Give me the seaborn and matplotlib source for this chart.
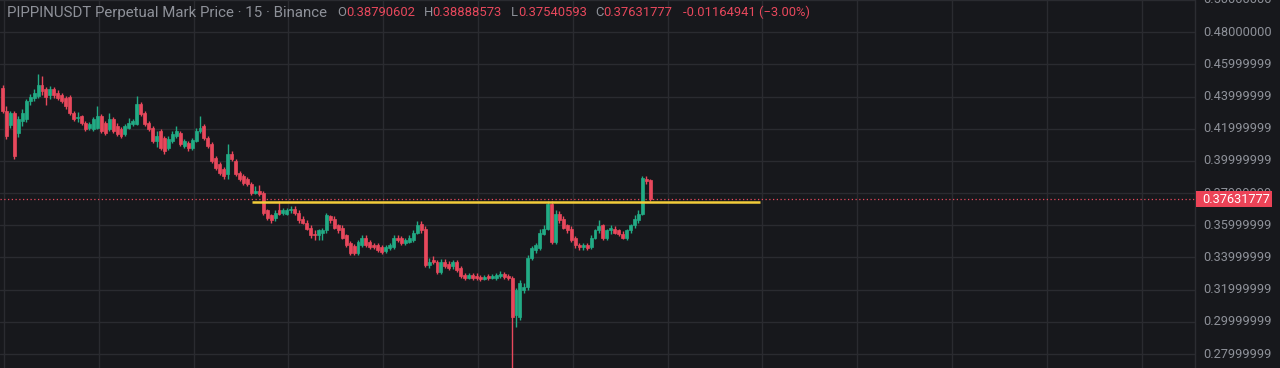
import numpy as np
import pandas as pd
import matplotlib
matplotlib.use("Agg")
import matplotlib.pyplot as plt
import seaborn as sns
from matplotlib.patches import Rectangle
from matplotlib.transforms import blended_transform_factory

# ---------------- data (15-minute candles) ----------------
opens = [
    .4453, .4311, .4224, .4299, .4175, .4249, .4261, .4373, .4391, .4404,
    .4472, .4447, .4410, .4447, .4422, .4410, .4391, .4398, .4299, .4268,
    .4280, .4237, .4206, .4199, .4206, .4280, .4237, .4199, .4261, .4218,
    .4199, .4168, .4206, .4230, .4230, .4354, .4299, .4237, .4206, .4125,
    .4187, .4144, .4082, .4125, .4156, .4175, .4094, .4113, .4082, .4125,
    .4187, .4218, .4144, .4106, .4020, .3983, .3952, .3921, .4045, .4001,
    .3927, .3908, .3890, .3859, .3803, .3816, .3803, .3692, .3661, .3648,
    .3692, .3679, .3673, .3692, .3704, .3679, .3642, .3617, .3586, .3549,
    .3537, .3555, .3568, .3655, .3642, .3599, .3586, .3537, .3487, .3469,
    .3426, .3475, .3524, .3494, .3475, .3475, .3463, .3438, .3456, .3463,
    .3524, .3518, .3487, .3494, .3506, .3555, .3611, .3580, .3351, .3382,
    .3370, .3308, .3370, .3357, .3345, .3370, .3333, .3289, .3271, .3289,
    .3283, .3277, .3264, .3283, .3271, .3271, .3283, .3295, .3283, .3271,
    .3042, .3029, .3196, .3215, .3395, .3444, .3456, .3549, .3580, .3735,
    .3494, .3673, .3642, .3599, .3580, .3518, .3475, .3463, .3475, .3463,
    .3524, .3568, .3599, .3524, .3568, .3580, .3568, .3549, .3524, .3568,
    .3599, .3630, .3673, .3890, .38790602,
]
highs = [
    .4472, .4342, .4311, .4311, .4280, .4323, .4385, .4416, .4447, .4540,
    .4528, .4460, .4466, .4460, .4441, .4422, .4404, .4410, .4311, .4305,
    .4286, .4249, .4243, .4274, .4342, .4292, .4249, .4299, .4274, .4237,
    .4212, .4230, .4268, .4261, .4404, .4367, .4311, .4249, .4218, .4187,
    .4199, .4156, .4156, .4187, .4218, .4187, .4137, .4125, .4144, .4206,
    .4280, .4230, .4156, .4119, .4032, .3995, .3964, .4106, .4063, .4014,
    .3939, .3921, .3902, .3871, .3846, .3853, .3816, .3704, .3673, .3692,
    .3754, .3710, .3710, .3723, .3717, .3692, .3655, .3630, .3599, .3568,
    .3580, .3586, .3679, .3667, .3655, .3611, .3599, .3549, .3500, .3481,
    .3506, .3537, .3537, .3506, .3487, .3487, .3475, .3475, .3487, .3537,
    .3537, .3531, .3518, .3537, .3568, .3624, .3624, .3593, .3395, .3407,
    .3382, .3388, .3388, .3376, .3382, .3382, .3345, .3302, .3302, .3302,
    .3302, .3289, .3289, .3295, .3295, .3302, .3314, .3308, .3295, .3283,
    .3209, .3258, .3240, .3413, .3469, .3487, .3580, .3599, .3754, .3748,
    .3692, .3686, .3655, .3611, .3593, .3531, .3487, .3487, .3487, .3537,
    .3580, .3630, .3611, .3580, .3599, .3593, .3580, .3562, .3580, .3611,
    .3661, .3692, .3908, .3908, .38888573,
]
lows = [
    .4299, .4137, .4206, .4014, .4150, .4218, .4243, .4348, .4373, .4391,
    .4410, .4348, .4385, .4391, .4379, .4360, .4323, .4286, .4249, .4243,
    .4224, .4187, .4193, .4187, .4199, .4175, .4162, .4187, .4175, .4156,
    .4144, .4156, .4199, .4218, .4224, .4280, .4218, .4187, .4113, .4088,
    .4069, .4045, .4069, .4113, .4144, .4094, .4082, .4063, .4069, .4119,
    .4175, .4131, .4082, .3989, .3946, .3915, .3890, .3890, .4001, .3908,
    .3877, .3853, .3846, .3791, .3797, .3785, .3667, .3636, .3617, .3624,
    .3661, .3667, .3661, .3679, .3667, .3617, .3605, .3568, .3524, .3506,
    .3506, .3506, .3555, .3617, .3574, .3555, .3512, .3463, .3413, .3413,
    .3413, .3463, .3463, .3450, .3450, .3432, .3419, .3426, .3444, .3450,
    .3494, .3475, .3475, .3487, .3494, .3543, .3555, .3339, .3333, .3357,
    .3295, .3295, .3333, .3320, .3326, .3308, .3271, .3258, .3264, .3258,
    .3258, .3252, .3258, .3258, .3264, .3258, .3271, .3264, .3258, .2700,
    .2967, .3010, .3178, .3196, .3382, .3426, .3444, .3537, .3568, .3481,
    .3481, .3617, .3574, .3555, .3494, .3456, .3444, .3444, .3444, .3450,
    .3512, .3555, .3506, .3506, .3549, .3543, .3531, .3512, .3506, .3555,
    .3586, .3617, .3661, .3859, .37540593,
]
closes = [
    .4311, .4156, .4299, .4032, .4261, .4299, .4373, .4398, .4422, .4472,
    .4435, .4398, .4447, .4410, .4391, .4373, .4342, .4299, .4261, .4274,
    .4237, .4199, .4230, .4261, .4280, .4187, .4175, .4261, .4187, .4168,
    .4156, .4218, .4237, .4249, .4354, .4292, .4230, .4199, .4125, .4156,
    .4082, .4063, .4137, .4168, .4187, .4106, .4125, .4082, .4131, .4187,
    .4206, .4144, .4094, .4001, .3958, .3927, .3908, .4045, .4014, .3921,
    .3890, .3865, .3859, .3803, .3816, .3797, .3679, .3648, .3630, .3679,
    .3673, .3692, .3698, .3704, .3679, .3630, .3617, .3580, .3537, .3537,
    .3568, .3568, .3661, .3630, .3586, .3568, .3524, .3475, .3426, .3426,
    .3494, .3524, .3475, .3463, .3463, .3444, .3432, .3463, .3475, .3524,
    .3506, .3487, .3506, .3524, .3555, .3599, .3568, .3351, .3370, .3370,
    .3308, .3370, .3345, .3333, .3370, .3320, .3283, .3271, .3289, .3271,
    .3271, .3264, .3277, .3271, .3283, .3289, .3295, .3277, .3271, .3029,
    .3196, .3240, .3215, .3395, .3456, .3475, .3555, .3580, .3735, .3494,
    .3673, .3630, .3586, .3568, .3506, .3475, .3463, .3475, .3456, .3524,
    .3568, .3593, .3518, .3568, .3586, .3555, .3543, .3524, .3568, .3599,
    .3642, .3673, .3896, .3877, .37631777,
]

price_ticks = [0.28, 0.30, 0.32, 0.34, 0.36, 0.38, 0.40, 0.42, 0.44, 0.46, 0.48, 0.50]
price_labels = ["0.27999999", "0.29999999", "0.31999999", "0.33999999",
                "0.35999999", "0.37999999", "0.39999999", "0.41999999",
                "0.43999999", "0.45999999", "0.48000000", "0.50000000"]

symbol_title = "PIPPINUSDT Perpetual Mark Price \u00b7 15 \u00b7 Binance"
ohlc_keys = ["O", "H", "L", "C"]
ohlc_values = ["0.38790602", "0.38888573", "0.37540593", "0.37631777"]
change_text = "-0.01164941 (\u22123.00%)"
last_price = 0.37631777
last_price_label = "0.37631777"

level_price = 0.3747          # drawn horizontal level (yellow)
level_span = (63.2, 191.8)    # candle-index span of the drawn level

# ---------------- style ----------------
BG = "#17181c"
GRID = "#2a2b30"
TXT = "#8e9199"
UP = "#22ab85"
DOWN = "#e8485c"
YELLOW = "#f2cc3a"

sns.set_theme(style="dark", rc={
    "axes.facecolor": BG, "figure.facecolor": BG,
    "grid.color": GRID, "axes.edgecolor": GRID,
})
plt.rcParams["font.family"] = ["Roboto", "DejaVu Sans"]

W, H = 1280, 368
fig = plt.figure(figsize=(W / 100, H / 100), dpi=100)
ax = fig.add_axes([0, 0, 1195 / W, 1])
ax.set_facecolor(BG)

df = pd.DataFrame({"open": opens, "high": highs, "low": lows, "close": closes})
df["t"] = np.arange(len(df))
df["color"] = np.where(df["close"] >= df["open"], UP, DOWN)

ax.set_xlim(-2.5 / 3.95, (1195 - 2.5) / 3.95)
ax.set_ylim(0.27133, 0.49920)

# grid
ax.set_yticks(price_ticks)
ax.set_xticks(np.arange(0.38, 302, 24))
ax.grid(True, color=GRID, linewidth=1.0)
ax.tick_params(length=0, labelleft=False, labelbottom=False)
for s in ["top", "left", "bottom"]:
    ax.spines[s].set_visible(False)
ax.spines["right"].set_color("#2c2d32")
ax.spines["right"].set_linewidth(1.0)

# candles
ax.vlines(df["t"], df["low"], df["high"], colors=df["color"], linewidth=1.0, zorder=3)
ax.bar(df["t"], df["close"] - df["open"], bottom=df["open"], width=0.74,
       color=df["color"], edgecolor=df["color"], linewidth=0.5, zorder=4)

# last price dotted line & drawn level
ax.axhline(last_price, color=DOWN, linestyle=(0, (1, 2)), linewidth=0.9, zorder=2)
ax.hlines(level_price, level_span[0], level_span[1], color=YELLOW, linewidth=1.8, zorder=5)

# price scale labels
tr = blended_transform_factory(ax.transAxes, ax.transData)
for v, lab in zip(price_ticks, price_labels):
    ax.text(1 + 8 / 1195, v, lab, transform=tr, ha="left", va="center",
            fontsize=9.2, color=TXT, clip_on=False)

# last price tag
fig.canvas.draw()
y_px = ax.transData.transform((0, last_price))[1]
box_h = 16
fig.patches.append(Rectangle((1196 / W, (y_px - box_h / 2) / H), 76 / W, box_h / H,
                             transform=fig.transFigure, facecolor="#ec4357",
                             edgecolor="none", zorder=10))
fig.text(1202 / W, y_px / H, last_price_label, ha="left", va="center",
         fontsize=9.2, color="white", zorder=11)

# header
ty = (H - 12.5) / H
fig.text(7 / W, ty, symbol_title, ha="left", va="center", fontsize=10.8, color=TXT)
key_x = [337, 424, 511, 595]
val_x = [346, 432, 518, 603]
for k, v, kx, vx in zip(ohlc_keys, ohlc_values, key_x, val_x):
    fig.text(kx / W, ty, k, ha="left", va="center", fontsize=9.4, color=TXT)
    fig.text(vx / W, ty, v, ha="left", va="center", fontsize=9.4, color=DOWN)
fig.text(683 / W, ty, change_text, ha="left", va="center", fontsize=9.4, color=DOWN)

fig.savefig("out.png", dpi=100, facecolor=BG)
